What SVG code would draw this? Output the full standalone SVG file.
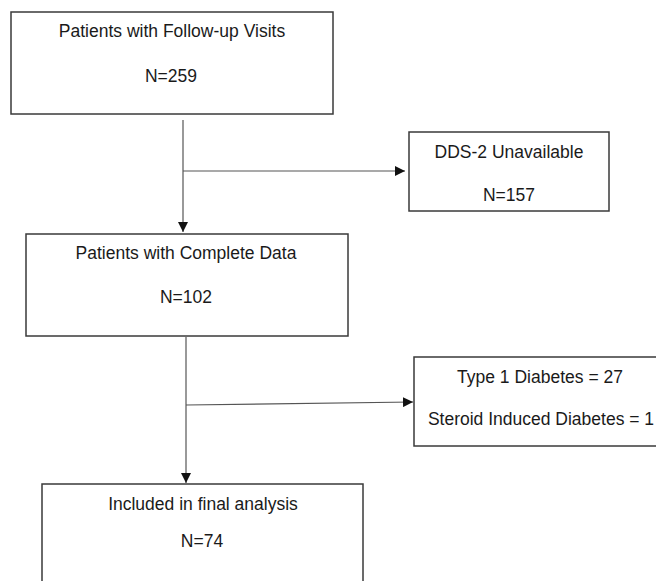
<svg xmlns="http://www.w3.org/2000/svg" width="656" height="581" viewBox="0 0 656 581">
<defs>
<style>
.box{fill:#fff;stroke:#3a3a3a;stroke-width:1.5}
.t{font-family:"Liberation Sans",Arial,sans-serif;font-size:17.5px;fill:#1a1a1a;text-anchor:middle}
.c{stroke:#555;stroke-width:1.2;fill:none}
</style>
<marker id="ah" viewBox="0 0 10 10" refX="10" refY="5" markerWidth="10" markerHeight="10" markerUnits="userSpaceOnUse" orient="auto">
<path d="M0,0 L10,5 L0,10 Z" fill="#111"/>
</marker>
</defs>
<rect width="656" height="581" fill="#fff"/>
<g id="connectors">
<path class="c" d="M183,120 V232" marker-end="url(#ah)"/>
<path class="c" d="M183,171 H405" marker-end="url(#ah)"/>
<path class="c" d="M186,337 V483" marker-end="url(#ah)"/>
<path class="c" d="M186,405 L413,402" marker-end="url(#ah)"/>
</g>
<g id="n1">
<rect class="box" x="11" y="12" width="322" height="102"/>
<text class="t" x="172" y="37">Patients with Follow-up Visits</text>
<text class="t" x="171" y="82">N=259</text>
</g>
<g id="n2">
<rect class="box" x="409" y="132" width="200" height="79"/>
<text class="t" x="509" y="158">DDS-2 Unavailable</text>
<text class="t" x="509" y="201">N=157</text>
</g>
<g id="n3">
<rect class="box" x="26" y="234" width="322" height="102"/>
<text class="t" x="186" y="259">Patients with Complete Data</text>
<text class="t" x="186" y="303">N=102</text>
</g>
<g id="n4">
<rect class="box" x="414" y="357" width="250" height="89"/>
<text class="t" x="540" y="383">Type 1 Diabetes = 27</text>
<text class="t" x="541" y="425">Steroid Induced Diabetes = 1</text>
</g>
<g id="n5">
<rect class="box" x="42" y="484" width="321" height="110"/>
<text class="t" x="203" y="510">Included in final analysis</text>
<text class="t" x="202" y="547">N=74</text>
</g>
</svg>
